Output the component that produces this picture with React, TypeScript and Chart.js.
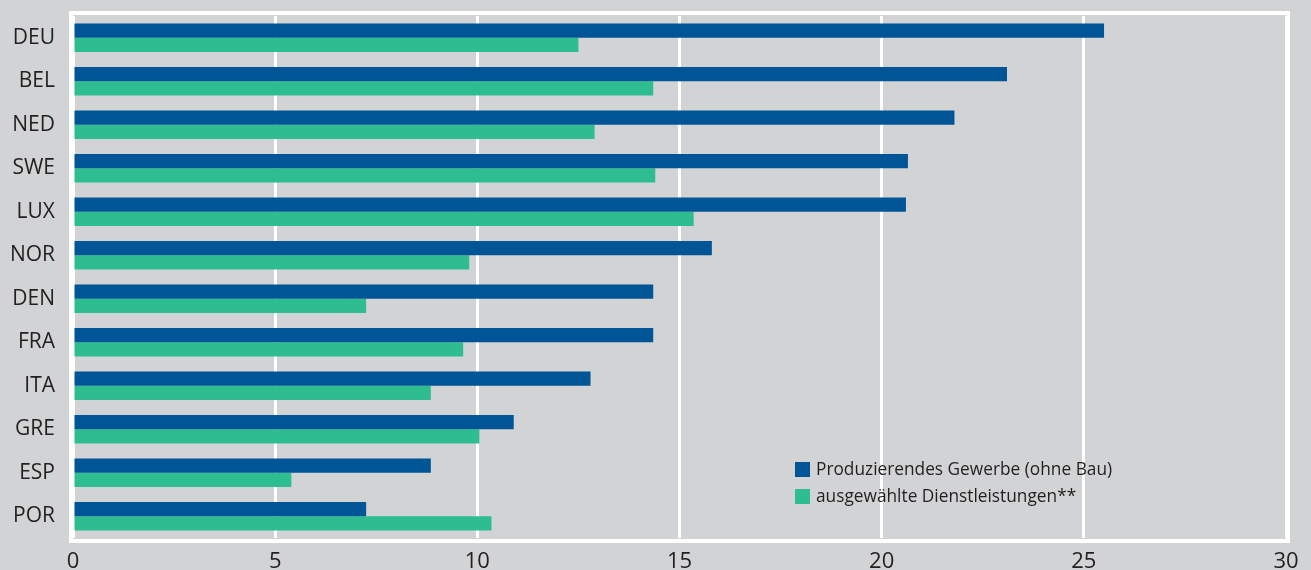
import React, { useEffect, useRef } from "react";
import { Chart, registerables } from "chart.js";

Chart.register(...registerables);

const categories = ["DEU", "BEL", "NED", "SWE", "LUX", "NOR", "DEN", "FRA", "ITA", "GRE", "ESP", "POR"];
const seriesNames = ["Produzierendes Gewerbe (ohne Bau)", "ausgewählte Dienstleistungen**"];
const produzierend = [25.5, 23.1, 21.8, 20.65, 20.6, 15.8, 14.35, 14.35, 12.8, 10.9, 8.85, 7.25];
const dienstleistungen = [12.5, 14.35, 12.9, 14.4, 15.35, 9.8, 7.25, 9.65, 8.85, 10.05, 5.4, 10.35];
const xTicks = [0, 5, 10, 15, 20, 25, 30];

const BG = "#d1d3d4";
const BLUE = "#005596";
const GREEN = "#2ebd8f";
const TEXT = "#231f20";

const bgPlugin = {
  id: "bgPlugin",
  beforeDraw(chart: any) {
    const { ctx, width, height } = chart;
    ctx.save();
    ctx.fillStyle = BG;
    ctx.fillRect(0, 0, width, height);
    ctx.restore();
  },
};

const framePlugin = {
  id: "framePlugin",
  afterDatasetsDraw(chart: any) {
    const { ctx, chartArea } = chart;
    const { left, right, top, bottom } = chartArea;
    ctx.save();
    ctx.strokeStyle = "#ffffff";
    ctx.lineWidth = 4;
    ctx.strokeRect(left - 2, top - 3, right + 2 - (left - 2), bottom + 3 - (top - 3));
    ctx.restore();
  },
  afterDraw(chart: any) {
    const { ctx, chartArea } = chart;
    const ds = chart.data.datasets;
    const x0 = chartArea.left + 722;
    const y0 = chartArea.bottom - 76;
    ctx.save();
    ctx.font = "17.3px 'Open Sans'";
    ctx.textBaseline = "middle";
    ctx.textAlign = "left";
    ds.forEach((d: any, i: number) => {
      const y = y0 + i * 27;
      ctx.fillStyle = d.backgroundColor;
      ctx.fillRect(x0, y, 15, 15);
      ctx.fillStyle = TEXT;
      ctx.fillText(d.label, x0 + 21, y + 8);
    });
    ctx.restore();
  },
};

export default function App() {
  const ref = useRef<HTMLCanvasElement | null>(null);

  useEffect(() => {
    document.body.style.margin = "0";
    document.body.style.background = BG;
    if (!ref.current) return;
    const chart = new Chart(ref.current, {
      type: "bar",
      data: {
        labels: categories,
        datasets: [
          { label: seriesNames[0], data: produzierend, backgroundColor: BLUE, categoryPercentage: 0.66, barPercentage: 1 },
          { label: seriesNames[1], data: dienstleistungen, backgroundColor: GREEN, categoryPercentage: 0.66, barPercentage: 1 },
        ],
      },
      options: {
        indexAxis: "y",
        responsive: false,
        animation: false,
        layout: { padding: { top: 16, right: 25, left: 0, bottom: 0 } },
        plugins: { legend: { display: false }, tooltip: { enabled: false } },
        scales: {
          x: {
            min: 0,
            max: 30,
            afterBuildTicks(scale: any) {
              scale.ticks = xTicks.map((v) => ({ value: v }));
            },
            afterFit(scale: any) {
              scale.height = 32;
              scale.paddingLeft = 0;
              scale.paddingRight = 0;
            },
            grid: { color: "#ffffff", lineWidth: 3, drawTicks: false, tickLength: 0 },
            border: { display: false },
            ticks: {
              color: TEXT,
              font: { family: "'Open Sans'", size: 22 },
              padding: 11,
              maxRotation: 0,
            },
          },
          y: {
            afterFit(scale: any) {
              scale.width = 73;
              scale.paddingTop = 0;
              scale.paddingBottom = 0;
            },
            grid: { display: false, drawTicks: false, tickLength: 0 },
            border: { display: false },
            ticks: {
              color: TEXT,
              font: { family: "'Open Sans'", size: 21 },
              padding: 18,
            },
          },
        },
      },
      plugins: [bgPlugin, framePlugin],
    });
    return () => chart.destroy();
  }, []);

  return <canvas ref={ref} width={1311} height={570} style={{ display: "block" }} />;
}
